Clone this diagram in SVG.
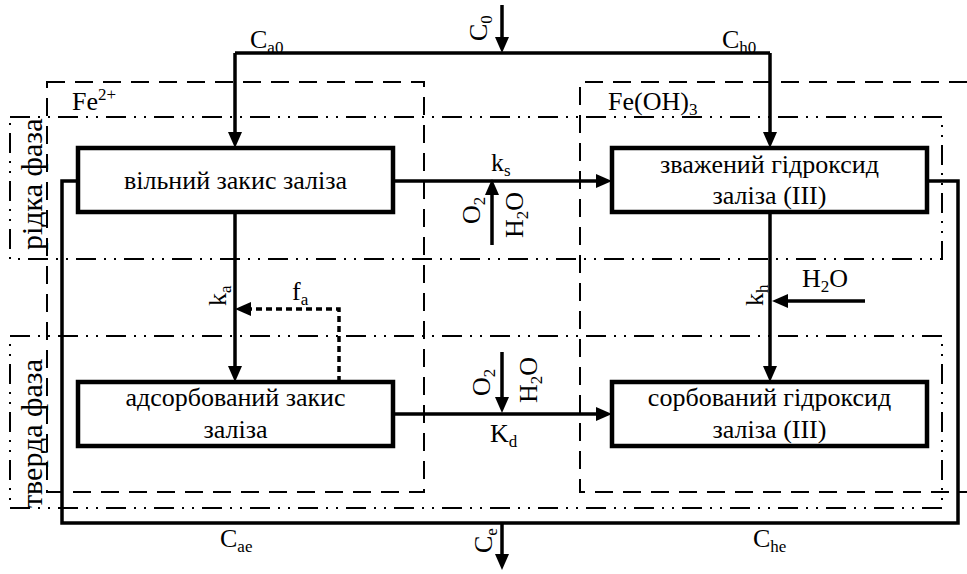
<svg xmlns="http://www.w3.org/2000/svg" width="967" height="574" viewBox="0 0 967 574" font-family="'Liberation Serif', 'Times New Roman', Times, 'DejaVu Serif', serif">
<style>
text{font-size:26px;fill:#000}
.c{text-anchor:middle}
.s{font-size:17px}
.ph{font-size:30px}
.box{fill:#fff;stroke:#000;stroke-width:4.5}
.ln{fill:none;stroke:#000;stroke-width:3.5}
.dash{fill:none;stroke:#000;stroke-width:2;stroke-dasharray:18 10}
.dd{fill:none;stroke:#000;stroke-width:2;stroke-dasharray:20 8 2 8 2 8}
.dot{fill:none;stroke:#000;stroke-width:3.5;stroke-dasharray:6 4}
</style>
<defs>
<marker id="ah" markerUnits="userSpaceOnUse" markerWidth="18" markerHeight="16" refX="6" refY="7" orient="auto">
<path d="M0,0 L16,7 L0,14 z" fill="#000"/>
</marker>
</defs>
<g id="regions">
<rect class="dash" x="47" y="82" width="377" height="410"/>
<path class="dash" d="M967,82 H580 V492 H967"/>
<rect class="dd" x="10" y="117" width="932" height="142"/>
<rect class="dd" x="10" y="336" width="932" height="172"/>
<text class="ph" transform="translate(42,250) rotate(-90)">рідка фаза</text>
<text class="ph" transform="translate(42,508) rotate(-90)">тверда фаза</text>
<text x="72" y="110">Fe<tspan class="s" dy="-10">2+</tspan></text>
<text x="608" y="110">Fe(OH)<tspan class="s" dy="5">3</tspan></text>
</g>
<g id="connectors">
<path class="ln" d="M502,5 V43" marker-end="url(#ah)"/>
<path class="ln" d="M235,53 H770"/>
<path class="ln" d="M235,53 V138" marker-end="url(#ah)"/>
<path class="ln" d="M770,53 V138" marker-end="url(#ah)"/>
<path class="ln" d="M393,181 H602" marker-end="url(#ah)"/>
<path class="ln" d="M492,245 V189" marker-end="url(#ah)"/>
<path class="ln" d="M235,212 V372" marker-end="url(#ah)"/>
<path class="dot" d="M339,382 V309 H247"/>
<path fill="#000" d="M235,309 L251,302 L251,316 z"/>
<path class="ln" d="M770,212 V372" marker-end="url(#ah)"/>
<path class="ln" d="M865,301 H782" marker-end="url(#ah)"/>
<path class="ln" d="M393,414 H602" marker-end="url(#ah)"/>
<path class="ln" d="M502,352 V403" marker-end="url(#ah)"/>
<path class="ln" d="M78,181 H62 V523 H958 V181 H927"/>
<path class="ln" d="M502,523 V560" marker-end="url(#ah)"/>
<text transform="translate(487,41) rotate(-90)">C<tspan class="s" dy="5">0</tspan></text>
<text x="250" y="48">C<tspan class="s" dy="5">a0</tspan></text>
<text x="722" y="48">C<tspan class="s" dy="5">h0</tspan></text>
<text x="491" y="171">k<tspan class="s" dy="5">s</tspan></text>
<text transform="translate(480,224) rotate(-90)">O<tspan class="s" dy="5">2</tspan></text>
<text transform="translate(523,238) rotate(-90)">H<tspan class="s" dy="5">2</tspan><tspan dy="-5">O</tspan></text>
<text transform="translate(226,306) rotate(-90)">k<tspan class="s" dy="5">a</tspan></text>
<text x="292" y="300">f<tspan class="s" dy="5">a</tspan></text>
<text transform="translate(763,306) rotate(-90)">k<tspan class="s" dy="5">h</tspan></text>
<text x="802" y="287">H<tspan class="s" dy="5">2</tspan><tspan dy="-5">O</tspan></text>
<text transform="translate(490,396) rotate(-90)">O<tspan class="s" dy="5">2</tspan></text>
<text transform="translate(537,403) rotate(-90)">H<tspan class="s" dy="5">2</tspan><tspan dy="-5">O</tspan></text>
<text x="490" y="442">K<tspan class="s" dy="5">d</tspan></text>
<text x="220" y="547">C<tspan class="s" dy="5">ae</tspan></text>
<text x="753" y="547">C<tspan class="s" dy="5">he</tspan></text>
<text transform="translate(492,553) rotate(-90)">C<tspan class="s" dy="5">e</tspan></text>
</g>
<g id="n1"><rect class="box" x="78" y="148" width="315" height="64"/><text class="c" x="235.5" y="189">вільний закис заліза</text></g>
<g id="n2"><rect class="box" x="612" y="148" width="315" height="64"/><text class="c" x="769.5" y="173">зважений гідроксид</text><text class="c" x="769.5" y="204">заліза (III)</text></g>
<g id="n3"><rect class="box" x="78" y="382" width="315" height="64"/><text class="c" x="235.5" y="406">адсорбований закис</text><text class="c" x="235.5" y="438">заліза</text></g>
<g id="n4"><rect class="box" x="612" y="382" width="315" height="64"/><text class="c" x="769.5" y="406">сорбований гідроксид</text><text class="c" x="769.5" y="438">заліза (III)</text></g>
</svg>
